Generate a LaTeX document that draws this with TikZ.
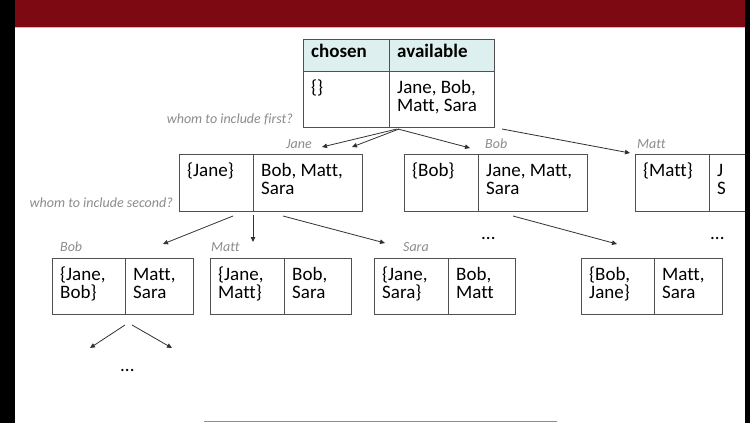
\documentclass[tikz,border=0pt]{standalone}
\usepackage{fontspec}
\setmainfont{Carlito}[Ligatures=NoCommon]
\usetikzlibrary{arrows.meta,calc}
\definecolor{banner}{RGB}{125,10,19}
\definecolor{hdr}{RGB}{221,240,239}
\definecolor{boxline}{RGB}{80,80,80}
\definecolor{arr}{RGB}{50,50,50}
\definecolor{lbl}{RGB}{140,140,140}
\tikzset{
  cellbox/.style={draw=boxline,line width=1pt,anchor=north west,inner sep=0pt,outer sep=0pt},
  celltext/.style={anchor=north west,inner sep=0pt,align=left,font=\fontsize{19}{18.5}\selectfont},
  lab/.style={anchor=base west,inner sep=0pt,text=lbl,font=\fontsize{14}{14}\selectfont\itshape},
  labr/.style={lab,anchor=base east},
  conn/.style={draw=arr,line width=0.8pt,-{Triangle[length=5pt,width=4.5pt]}},
  dots/.style={anchor=base west,inner sep=0pt,font=\fontsize{19}{19}\selectfont},
}
\newcommand\mkpair[8]{%
  \pgfmathsetmacro\wl{#3-#2}\pgfmathsetmacro\wr{#4-#3}\pgfmathsetmacro\hh{#6-#5}%
  \node[cellbox,minimum width=\wl pt,minimum height=\hh pt] (#1-l) at (#2,#5) {};
  \node[cellbox,minimum width=\wr pt,minimum height=\hh pt] (#1-r) at (#3,#5) {};
  \node[celltext] (#1-lt) at ($(#1-l.north west)+(8,7)$) {\rule{0pt}{15pt}#7};
  \node[celltext] (#1-rt) at ($(#1-r.north west)+(8,7)$) {\rule{0pt}{15pt}#8};
}
\begin{document}
\begin{tikzpicture}[x=1pt,y=-1pt]
\useasboundingbox (0,0) rectangle (750,423);
\fill[white] (0,0) rectangle (750,423);
\fill[banner] (15,0) rectangle (745,27);
\draw[black!25,line width=1pt] (15,27.8) -- (745,27.8);

% root table
\node[cellbox,fill=hdr,minimum width=86pt,minimum height=32pt] (root-hl) at (303,39) {};
\node[cellbox,fill=hdr,minimum width=105pt,minimum height=32pt] (root-hr) at (389,39) {};
\node[celltext] (root-hlt) at ($(root-hl.north west)+(8,3)$) {\rule{0pt}{15pt}\textbf{chosen}};
\node[celltext] (root-hrt) at ($(root-hr.north west)+(8,3)$) {\rule{0pt}{15pt}\textbf{available}};
\node[cellbox,minimum width=86pt,minimum height=56pt] (root-l) at (303,71) {};
\node[cellbox,minimum width=105pt,minimum height=56pt] (root-r) at (389,71) {};
\node[celltext] (root-lt) at ($(root-l.north west)+(8,7)$) {\rule{0pt}{15pt}\{\}};
\node[celltext] (root-rt) at ($(root-r.north west)+(8,7)$) {\rule{0pt}{15pt}Jane, Bob,\\Matt, Sara};

% level 2
\mkpair{jane}{179}{253}{362}{154}{211}{\{Jane\}}{Bob, Matt,\\Sara}
\mkpair{bob}{404}{478}{587}{154}{211}{\{Bob\}}{Jane, Matt,\\Sara}
\mkpair{matt}{635}{709}{818}{154}{211}{\{Matt\}}{J\\S}

% level 3
\mkpair{jb}{52}{125}{193}{258}{314}{\{Jane,\\Bob\}}{Matt,\\Sara}
\mkpair{jm}{210}{284}{351}{258}{314}{\{Jane,\\Matt\}}{Bob,\\Sara}
\mkpair{js}{374}{448}{515}{258}{314}{\{Jane,\\Sara\}}{Bob,\\Matt}
\mkpair{bj}{581}{654}{722}{258}{314}{\{Bob,\\Jane\}}{Matt,\\Sara}

% labels
\node[labr] (q1) at (293,123) {whom to include first?};
\node[labr] (q2) at (173,207) {whom to include second?};
\node[lab] (l2a) at (286,148) {Jane};
\node[lab] (l2b) at (485,148) {Bob};
\node[lab] (l2c) at (637,148) {Matt};
\node[lab] (l3a) at (60,251) {Bob};
\node[lab] (l3b) at (211,251) {Matt};
\node[lab] (l3c) at (403,251) {Sara};
\node[dots] (d1) at (481,239) {...};
\node[dots] (d2) at (710,239) {...};
\node[dots] (d3) at (120,371) {...};

% connectors
\draw[conn] ($(root-r.south west)+(8,2)$) -- ($(jane-r.north west)+(69,-7)$);
\draw[conn] ($(root-r.south west)+(10,2)$) -- ($(jane-r.north west)+(99,-7)$);
\draw[conn] ($(root-r.south west)+(9,2)$) -- ($(bob-l.north west)+(66,-6)$);
\draw[conn] ($(root-r.south east)+(8,2)$) -- ($(matt-l.north west)+(-5,-1)$);
\draw[conn] ($(jane-l.south east)+(-20,5)$) -- ($(jb-r.north west)+(38,-14)$);
\draw[conn] ($(jane-l.south east)+(0,4)$) -- ($(jm-r.north west)+(-31,-16)$);
\draw[conn] ($(jane-r.south west)+(30,5)$) -- ($(js-l.north west)+(11,-15)$);
\draw[conn] ($(bob-r.south west)+(35,5)$) -- ($(bj-l.north west)+(36,-14)$);
\draw[conn] ($(jb-l.south east)+(0,11)$) -- ($(jb-l.south east)+(-35,34)$);
\draw[conn] ($(jb-l.south east)+(7,11)$) -- ($(jb-l.south east)+(47,34)$);

% bottom rule and frame
\draw[black!45,line width=1.5pt] (204,421.5) -- (557,421.5);
\fill[black] (0,0) rectangle (15,423);
\fill[black] (745,0) rectangle (750,423);
\end{tikzpicture}
\end{document}
